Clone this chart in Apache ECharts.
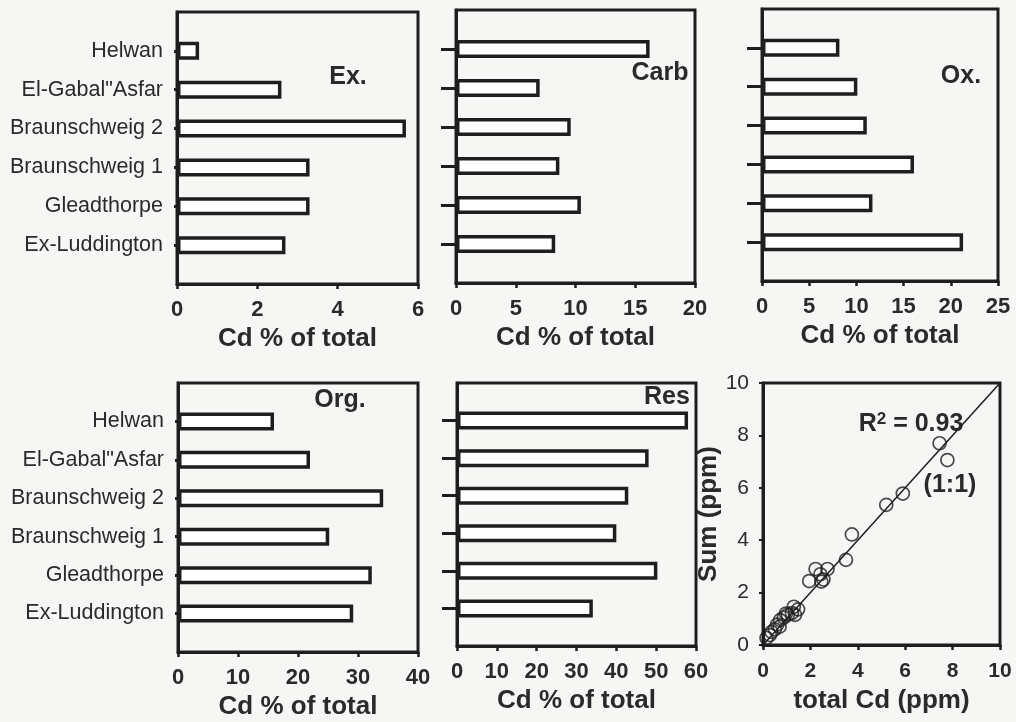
<!DOCTYPE html>
<html>
<head>
<meta charset="utf-8">
<script src="https://cdn.jsdelivr.net/npm/echarts@6/dist/echarts.min.js"></script>
<style>
html,body{margin:0;padding:0;background:#f6f6f4;}
#c{width:1016px;height:722px;}
</style>
</head>
<body>
<div id="c"></div>
<script>
// Categories (bottom to top, as drawn on the category axis)
const categories = ['Ex-Luddington', 'Gleadthorpe', 'Braunschweig 1', 'Braunschweig 2', 'El-Gabal"Asfar', 'Helwan'];
// Cd % of total per fraction
const exVals   = [2.7, 3.3, 3.3, 5.7, 2.6, 0.55];
const carbVals = [8.3, 10.45, 8.65, 9.6, 7.0, 16.2];
const oxVals   = [21.3, 11.7, 16.1, 11.1, 10.1, 8.2];
const orgVals  = [29.2, 32.3, 25.2, 34.2, 22.0, 16.0];
const resVals  = [34.1, 50.3, 40.0, 43.0, 48.1, 58.0];
// Axis ranges [max, interval]
const axisMax      = [6, 20, 25, 40, 60];
const axisInterval = [2, 5, 5, 10, 10];
// Scatter: total Cd (ppm) vs Sum (ppm)
const totalCd = [0.15, 0.29, 0.36, 0.5, 0.6, 0.7, 0.72, 0.88, 0.97, 1.05, 1.22, 1.3, 1.35, 1.48, 1.95, 2.22, 2.42, 2.46, 2.55, 2.72, 3.5, 3.75, 5.2, 5.9, 7.45, 7.78];
const sumCd   = [0.27, 0.38, 0.5, 0.6, 0.78, 0.7, 0.95, 1.05, 1.2, 1.15, 1.22, 1.46, 1.15, 1.36, 2.44, 2.9, 2.7, 2.42, 2.5, 2.9, 3.25, 4.22, 5.35, 5.78, 7.7, 7.06];
const oneToOne = [[0, 0], [10, 10]];

const FONT = '"Liberation Sans", Arial, sans-serif';
const INK = '#1e1e1e';
const TXT = '#2a2a2a';

const chart = echarts.init(document.getElementById('c'));

const grids = [
  {left: 177, top: 12, width: 241, height: 272},
  {left: 456, top: 10, width: 239, height: 273},
  {left: 762, top: 9,  width: 236, height: 272},
  {left: 178, top: 383, width: 240, height: 269},
  {left: 457, top: 383, width: 239, height: 263},
  {left: 763, top: 383, width: 237, height: 262}
];
const panelVals = [exVals, carbVals, oxVals, orgVals, resVals];
const showCat = [true, false, false, true, false];

const catData = [''].concat(categories).concat(['']);

const xAxes = [], yAxes = [], series = [];
panelVals.forEach((vals, i) => {
  xAxes.push({
    gridIndex: i, type: 'value', min: 0, max: axisMax[i], interval: axisInterval[i],
    axisLine: {show: true, lineStyle: {color: INK, width: 3}},
    axisTick: {show: true, inside: false, length: 5, lineStyle: {color: INK, width: 2.5}},
    axisLabel: {margin: 15, fontFamily: FONT, fontSize: 22, fontWeight: 'bold', color: TXT},
    splitLine: {show: false},
    name: 'Cd % of total', nameLocation: 'middle', nameGap: 42,
    nameTextStyle: {fontFamily: FONT, fontSize: 26, fontWeight: 'bold', color: TXT}
  });
  yAxes.push({
    gridIndex: i, type: 'category', data: catData, boundaryGap: false,
    axisLine: {show: true, lineStyle: {color: INK, width: 3}},
    axisTick: {show: true, length: showCat[i] ? 3 : 15, interval: (idx) => idx > 0 && idx < catData.length - 1,
               lineStyle: {color: INK, width: 3}},
    axisLabel: {show: showCat[i], interval: 0, margin: 14, fontFamily: FONT, fontSize: 21.5, color: TXT},
    splitLine: {show: false}
  });
  series.push({
    type: 'bar', xAxisIndex: i, yAxisIndex: i, barWidth: 18, barMaxWidth: 30,
    data: [null].concat(vals).concat([null]),
    itemStyle: {color: '#ffffff', borderColor: INK, borderWidth: 3.5},
    silent: true, animation: false
  });
});

// Scatter panel
xAxes.push({
  gridIndex: 5, type: 'value', min: 0, max: 10, interval: 2,
  axisLine: {show: true, lineStyle: {color: INK, width: 3}},
  axisTick: {show: true, length: 5, lineStyle: {color: INK, width: 2.5}},
  axisLabel: {margin: 16, fontFamily: FONT, fontSize: 21, fontWeight: 'bold', color: TXT},
  splitLine: {show: false},
  name: 'total Cd (ppm)', nameLocation: 'middle', nameGap: 43,
  nameTextStyle: {fontFamily: FONT, fontSize: 26, fontWeight: 'bold', color: TXT}
});
yAxes.push({
  gridIndex: 5, type: 'value', min: 0, max: 10, interval: 2,
  axisLine: {show: true, lineStyle: {color: INK, width: 3}},
  axisTick: {show: true, length: 4, lineStyle: {color: INK, width: 2}},
  axisLabel: {margin: 14, fontFamily: FONT, fontSize: 21, color: TXT},
  splitLine: {show: false},
  name: 'Sum (ppm)', nameLocation: 'middle', nameGap: 36, nameRotate: 90,
  nameTextStyle: {fontFamily: FONT, fontSize: 26, fontWeight: 'bold', color: TXT}
});
series.push({
  type: 'line', xAxisIndex: 5, yAxisIndex: 5, data: oneToOne,
  showSymbol: false, lineStyle: {color: INK, width: 1.5}, silent: true, animation: false
});
series.push({
  type: 'scatter', xAxisIndex: 5, yAxisIndex: 5,
  data: totalCd.map((v, k) => [v, sumCd[k]]),
  symbol: 'circle', symbolSize: 13,
  itemStyle: {color: 'rgba(255,255,255,0)', borderColor: INK, borderWidth: 1.7},
  silent: true, animation: false
});

const lbl = (text, x, y, extra) => Object.assign({
  type: 'text', x: x, y: y, silent: true,
  style: {text: text, font: 'bold 25px ' + FONT, fill: TXT, align: 'center', verticalAlign: 'middle'}
}, extra || {});

chart.setOption({
  backgroundColor: '#f6f6f4',
  animation: false,
  grid: grids.map(g => Object.assign({show: true, borderColor: INK, borderWidth: 3, backgroundColor: 'transparent', containLabel: false}, g)),
  xAxis: xAxes,
  yAxis: yAxes,
  series: series,
  graphic: [
    lbl('Ex.', 348, 77),
    lbl('Carb', 660, 73),
    lbl('Ox.', 961, 76),
    lbl('Org.', 340, 400),
    lbl('Res', 667, 397),
    {
      type: 'text', x: 911, y: 424, silent: true,
      style: {
        text: '{a|R}{s|2}{a| = 0.93}', align: 'center', verticalAlign: 'middle',
        rich: {
          a: {font: 'bold 25px ' + FONT, fill: TXT, color: TXT},
          s: {font: 'bold 17px ' + FONT, fill: TXT, color: TXT, verticalAlign: 'top', padding: [0, 0, 10, 0]}
        }
      }
    },
    lbl('(1:1)', 950, 485)
  ]
});
</script>
</body>
</html>
